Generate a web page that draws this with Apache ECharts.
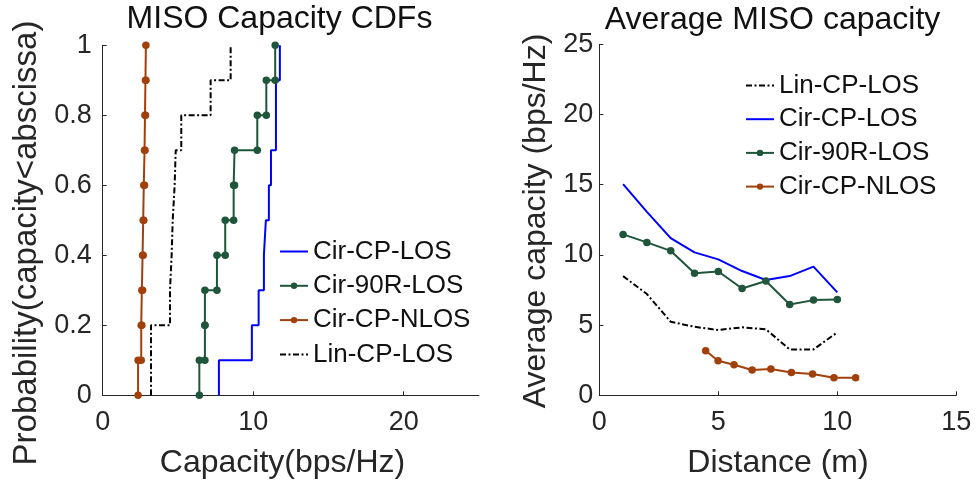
<!DOCTYPE html>
<html>
<head>
<meta charset="utf-8">
<script src="https://cdn.jsdelivr.net/npm/echarts@6/dist/echarts.min.js"></script>
<style>
html,body{margin:0;padding:0;background:#fff;}
#chart{width:977px;height:484px;}
</style>
</head>
<body>
<div id="chart"></div>
<script>
// ---- Left panel: sorted capacity samples (bps/Hz) per configuration ----
const cdfCirCPLOS   = [7.72, 9.91, 10.36, 10.71, 10.84, 11.04, 11.18, 11.51, 11.51, 11.77];
const cdfCir90RLOS  = [6.42, 6.79, 6.79, 7.59, 8.14, 8.70, 8.76, 10.27, 10.87, 11.46];
const cdfCirCPNLOS  = [2.35, 2.56, 2.60, 2.65, 2.69, 2.73, 2.78, 2.81, 2.84, 2.87];
const cdfLinCPLOS   = [3.21, 3.21, 4.47, 4.58, 4.65, 4.78, 4.85, 5.22, 7.17, 8.50];

// ---- Right panel: average capacity vs distance ----
const distLOS       = [1, 2, 3, 4, 5, 6, 7, 8, 9, 10];
const avgLinCPLOS   = [8.49, 7.21, 5.24, 4.88, 4.65, 4.84, 4.70, 3.27, 3.27, 4.48];
const avgCirCPLOS   = [15.04, 13.07, 11.20, 10.18, 9.68, 8.85, 8.21, 8.49, 9.16, 7.33];
const avgCir90RLOS  = [11.46, 10.89, 10.29, 8.70, 8.82, 7.61, 8.14, 6.47, 6.78, 6.83];
const distNLOS      = [4.47, 4.99, 5.66, 6.42, 7.21, 8.07, 8.96, 9.86, 10.77];
const avgCirCPNLOS  = [3.18, 2.46, 2.18, 1.80, 1.87, 1.63, 1.52, 1.25, 1.25];

// ---- Tick labels ----
const leftXTicks  = [0, 10, 20];
const leftYTicks  = [0, 0.2, 0.4, 0.6, 0.8, 1];
const rightXTicks = [0, 5, 10, 15];
const rightYTicks = [0, 5, 10, 15, 20, 25];

const names = ['Cir-CP-LOS', 'Cir-90R-LOS', 'Cir-CP-NLOS', 'Lin-CP-LOS'];
const colors = { blue: '#0000ff', green: '#1f553a', orange: '#a2400c', black: '#000000' };
const dashDot = [6, 2.5, 2, 2.5];

function cdfVertices(vals) {
  const n = vals.length, pts = [];
  for (let i = 0; i < n; i++) {
    pts.push([vals[i], i / n]);
    pts.push([vals[i], (i + 1) / n]);
  }
  return pts;
}
function zip(xs, ys) { return xs.map((x, i) => [x, ys[i]]); }

const FONT = "'Liberation Sans', Arial, Helvetica, sans-serif";
const AX = '#262626';

function axisCommon(extra) {
  return Object.assign({
    type: 'value',
    axisLine: { show: true, lineStyle: { color: AX, width: 1 } },
    axisTick: { show: true, inside: true, length: 4, lineStyle: { color: AX } },
    splitLine: { show: false },
    axisLabel: { color: AX, fontSize: 27, fontFamily: FONT }
  }, extra);
}

const chart = echarts.init(document.getElementById('chart'), null, { renderer: 'canvas' });

const lineSer = (name, data, color, xi, opts) => Object.assign({
  name, type: 'line', data, xAxisIndex: xi, yAxisIndex: xi,
  clip: false, animation: false,
  lineStyle: { color, width: 2 },
  itemStyle: { color },
  symbol: 'none', symbolSize: 7.5, showSymbol: false
}, opts || {});
const withMarkers = { symbol: 'circle', showSymbol: true };

const option = {
  animation: false,
  textStyle: { fontFamily: FONT },
  title: [
    { text: 'MISO Capacity CDFs', left: 279.5, top: 3.5, textAlign: 'center', padding: 0,
      textStyle: { fontSize: 32, fontWeight: 'normal', color: '#111', fontFamily: FONT } },
    { text: 'Average MISO capacity', left: 772.5, top: 4, textAlign: 'center', padding: 0,
      textStyle: { fontSize: 32, fontWeight: 'normal', color: '#111', fontFamily: FONT } }
  ],
  grid: [
    { left: 102.7, top: 45.3, width: 376.3, height: 350 },
    { left: 599.3, top: 44.3, width: 357, height: 351 }
  ],
  xAxis: [
    axisCommon({ gridIndex: 0, min: 0, max: 25, interval: 10,
      axisTick: { show: true, inside: true, length: 4, lineStyle: { color: AX }, customValues: leftXTicks },
      axisLabel: { color: AX, fontSize: 27, fontFamily: FONT, margin: 14, customValues: leftXTicks } }),
    axisCommon({ gridIndex: 1, min: 0, max: 15, interval: 5,
      axisTick: { show: true, inside: true, length: 4, lineStyle: { color: AX }, customValues: rightXTicks },
      axisLabel: { color: AX, fontSize: 27, fontFamily: FONT, margin: 14, customValues: rightXTicks } })
  ],
  yAxis: [
    axisCommon({ gridIndex: 0, min: 0, max: 1, interval: 0.2,
      axisTick: { show: true, inside: true, length: 4, lineStyle: { color: AX }, customValues: leftYTicks },
      axisLabel: { color: AX, fontSize: 27, fontFamily: FONT, margin: 11, customValues: leftYTicks } }),
    axisCommon({ gridIndex: 1, min: 0, max: 25, interval: 5,
      axisTick: { show: true, inside: true, length: 4, lineStyle: { color: AX }, customValues: rightYTicks },
      axisLabel: { color: AX, fontSize: 27, fontFamily: FONT, margin: 6, customValues: rightYTicks } })
  ],
  legend: [
    { orient: 'vertical', left: 279, top: 238.5, padding: 0, itemWidth: 28, itemHeight: 8, itemGap: 8.3,
      selectedMode: false,
      textStyle: { fontSize: 26, color: '#111', fontFamily: FONT },
      data: [
        { name: names[0], itemStyle: { opacity: 0 } },
        { name: names[1] },
        { name: names[2] },
        { name: names[3], itemStyle: { opacity: 0 } }
      ] },
    { orient: 'vertical', left: 745, top: 72.5, padding: 0, itemWidth: 28, itemHeight: 8, itemGap: 7.7,
      selectedMode: false,
      textStyle: { fontSize: 26, color: '#111', fontFamily: FONT },
      data: [
        { name: names[3], itemStyle: { opacity: 0 } },
        { name: names[0], itemStyle: { opacity: 0 } },
        { name: names[1] },
        { name: names[2] }
      ] }
  ],
  graphic: [
    { type: 'text', x: 27, y: 243, rotation: Math.PI / 2, silent: true,
      style: { text: 'Probability(capacity<abscissa)', fontSize: 33, fontFamily: FONT, fill: AX, align: 'center', verticalAlign: 'middle' } },
    { type: 'text', x: 282.5, y: 463, silent: true,
      style: { text: 'Capacity(bps/Hz)', fontSize: 32, fontFamily: FONT, fill: AX, align: 'center', verticalAlign: 'middle' } },
    { type: 'text', x: 536, y: 221, rotation: Math.PI / 2, silent: true,
      style: { text: 'Average capacity (bps/Hz)', fontSize: 32, fontFamily: FONT, fill: AX, align: 'center', verticalAlign: 'middle' } },
    { type: 'text', x: 778, y: 463, silent: true,
      style: { text: 'Distance (m)', fontSize: 32, fontFamily: FONT, fill: AX, align: 'center', verticalAlign: 'middle' } }
  ],
  series: [
    lineSer(names[0], cdfVertices(cdfCirCPLOS), colors.blue, 0),
    lineSer(names[1], cdfVertices(cdfCir90RLOS), colors.green, 0, withMarkers),
    lineSer(names[2], cdfVertices(cdfCirCPNLOS), colors.orange, 0, withMarkers),
    lineSer(names[3], cdfVertices(cdfLinCPLOS), colors.black, 0, { lineStyle: { color: colors.black, width: 2, type: dashDot } }),
    lineSer(names[3], zip(distLOS, avgLinCPLOS), colors.black, 1, { lineStyle: { color: colors.black, width: 2, type: dashDot } }),
    lineSer(names[0], zip(distLOS, avgCirCPLOS), colors.blue, 1),
    lineSer(names[1], zip(distLOS, avgCir90RLOS), colors.green, 1, withMarkers),
    lineSer(names[2], zip(distNLOS, avgCirCPNLOS), colors.orange, 1, withMarkers)
  ]
};
chart.setOption(option);
</script>
</body>
</html>
